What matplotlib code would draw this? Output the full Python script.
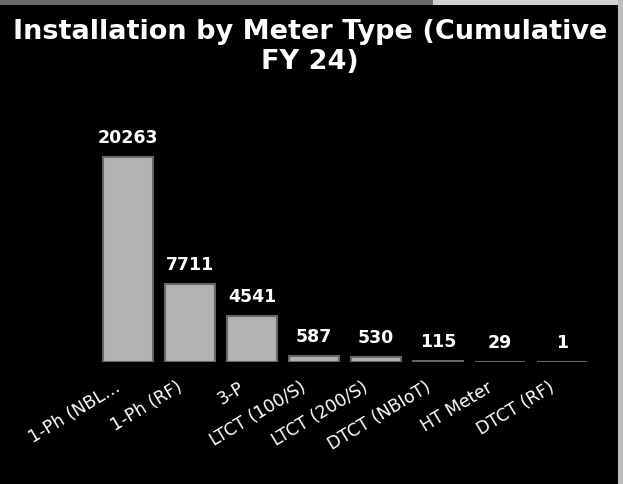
import matplotlib
matplotlib.use("Agg")
import matplotlib.pyplot as plt
from matplotlib.patches import Rectangle
from matplotlib.transforms import ScaledTranslation

categories = ["1-Ph (NBL…", "1-Ph (RF)", "3-P", "LTCT (100/S)", "LTCT (200/S)",
              "DTCT (NBIoT)", "HT Meter", "DTCT (RF)"]
values = [20263, 7711, 4541, 587, 530, 115, 29, 1]
title = "Installation by Meter Type (Cumulative\nFY 24)"

W, H = 623, 484
dpi = 100
fig = plt.figure(figsize=(W / dpi, H / dpi), dpi=dpi, facecolor="black")

# frame strips (top / right)
fig.patches.append(Rectangle((0, 1 - 5 / H), 433 / W, 5 / H, transform=fig.transFigure,
                             facecolor="#6a6a6a", edgecolor="none", zorder=0))
fig.patches.append(Rectangle((433 / W, 1 - 5 / H), 1 - 433 / W, 5 / H, transform=fig.transFigure,
                             facecolor="#d0d0d0", edgecolor="none", zorder=0))
fig.patches.append(Rectangle((1 - 5 / W, 0), 5 / W, 1, transform=fig.transFigure,
                             facecolor="#bdbdbd", edgecolor="none", zorder=0))

ymax = 22000
ax_left, ax_w = 97, 496
ax_bottom = H - 362
ax_h = ymax * 205 / 20263
ax = fig.add_axes([ax_left / W, ax_bottom / H, ax_w / W, ax_h / H])
ax.set_facecolor("black")

x = list(range(len(categories)))
ax.bar(x, values, width=50 / 62, color="#b3b3b3", edgecolor="#666666", linewidth=1.5)
ax.set_xlim(-0.5, len(categories) - 0.5)
ax.set_ylim(0, ymax)

for xi, v in zip(x, values):
    ax.annotate(f"{v}", (xi, v), xytext=(0, 7), textcoords="offset points",
                ha="center", va="bottom", color="white", fontsize=12.5,
                fontweight="bold", family="DejaVu Sans")

ax.set_xticks(x)
ax.set_xticklabels(categories, rotation=31, ha="right", va="center", rotation_mode="anchor",
                   color="white", fontsize=12.5, family="DejaVu Sans")
ax.tick_params(axis="x", length=0, pad=0)
ax.tick_params(axis="y", left=False, labelleft=False)
off = ScaledTranslation(-9 / dpi, -24 / dpi, fig.dpi_scale_trans)
for lab in ax.get_xticklabels():
    lab.set_transform(lab.get_transform() + off)
for s in ax.spines.values():
    s.set_visible(False)

fig.text(310 / W, 1 - 47 / H, title, ha="center", va="center", color="white",
         fontsize=19.5, fontweight="bold", family="DejaVu Sans",
         linespacing=1.2)

fig.savefig("out.png", dpi=dpi, facecolor="black")
